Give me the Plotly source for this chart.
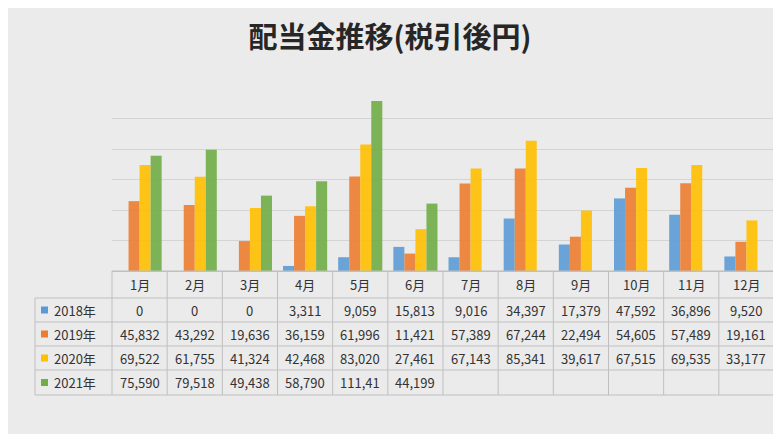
import plotly.graph_objects as go

months = ["1月", "2月", "3月", "4月", "5月", "6月", "7月", "8月", "9月", "10月", "11月", "12月"]
years = ["2018年", "2019年", "2020年", "2021年"]
v2018 = [0, 0, 0, 3311, 9059, 15813, 9016, 34397, 17379, 47592, 36896, 9520]
v2019 = [45832, 43292, 19636, 36159, 61996, 11421, 57389, 67244, 22494, 54605, 57489, 19161]
v2020 = [69522, 61755, 41324, 42468, 83020, 27461, 67143, 85341, 39617, 67515, 69535, 33177]
v2021 = [75590, 79518, 49438, 58790, 111410, 44199, None, None, None, None, None, None]
series = [v2018, v2019, v2020, v2021]
colors = ["#5B9BD5", "#ED7D31", "#FFC000", "#70AD47"]

FONT = "Noto Sans CJK JP"
W, H = 781, 434
OFF = 8  # page body margin offsets the figure
L, R, T, B = 112 - OFF, 23 - OFF, 88 - OFF, 163 + OFF
ph = H - T - B


def py(pix):
    # page pixel row -> paper y
    return (H - B - (pix - OFF)) / ph


def px(pix):
    return (pix - OFF - L) / (W - L - R)


fig = go.Figure()
for name, vals, c in zip(years, series, colors):
    fig.add_trace(go.Bar(x=months, y=vals, name=name,
                         marker=dict(color=c, opacity=0.9, line=dict(width=0))))

shapes = []
annotations = []
gc = "#bfbfbf"
row_edges = [271, 298, 322, 346, 370, 395]
for i, yb in enumerate(row_edges):
    x0 = 35 if i >= 1 else 112
    shapes.append(dict(type="line", xref="paper", yref="paper", x0=px(x0), x1=1,
                       y0=py(yb), y1=py(yb), line=dict(color=gc, width=1)))
for k in range(13):
    xp = k / 12
    shapes.append(dict(type="line", xref="paper", yref="paper", x0=xp, x1=xp,
                       y0=py(271), y1=py(395), line=dict(color=gc, width=1)))
shapes.append(dict(type="line", xref="paper", yref="paper", x0=px(35), x1=px(35),
                   y0=py(298), y1=py(395), line=dict(color=gc, width=1)))

for m in months:
    annotations.append(dict(x=m, xref="x", y=py(284.5), yref="paper", text=m, showarrow=False,
                            xanchor="center", yanchor="middle",
                            font=dict(size=13, color="#333")))

for r, (name, vals, c) in enumerate(zip(years, series, colors)):
    yc = py((row_edges[r + 1] + row_edges[r + 2]) / 2)
    shapes.append(dict(type="rect", xref="paper", yref="paper", x0=px(41), x1=px(48),
                       y0=yc - 3.5 / ph, y1=yc + 3.5 / ph, fillcolor=c, line=dict(width=0)))
    annotations.append(dict(x=px(52), xref="paper", y=yc, yref="paper", text=name,
                            showarrow=False, xanchor="left", yanchor="middle",
                            font=dict(size=13, color="#333")))
    for m, v in zip(months, vals):
        if v is None:
            continue
        annotations.append(dict(x=m, xref="x", y=yc, yref="paper", text=f"{v:,}"[:6],
                                showarrow=False, xanchor="center", yanchor="middle",
                                font=dict(size=13, color="#333")))

fig.update_layout(
    width=W, height=H,
    margin=dict(l=L, r=R, t=T, b=B),
    paper_bgcolor="#ebebeb", plot_bgcolor="rgba(0,0,0,0)",
    title=dict(text="<b>配当金推移(税引後円)</b>", x=(390 - OFF) / W, y=1 - (38 - OFF) / H,
               xanchor="center", yanchor="middle",
               font=dict(family=FONT, size=29, color="#262626")),
    font=dict(family=FONT),
    showlegend=False,
    barmode="group", bargap=0.2, bargroupgap=0,
    xaxis=dict(showticklabels=False, showline=True, linecolor=gc, ticks=""),
    yaxis=dict(range=[0, 120000], dtick=20000, showticklabels=False, gridcolor="#d4d4d4",
               zeroline=False),
    shapes=shapes, annotations=annotations,
)

fig.write_html("out.html")
